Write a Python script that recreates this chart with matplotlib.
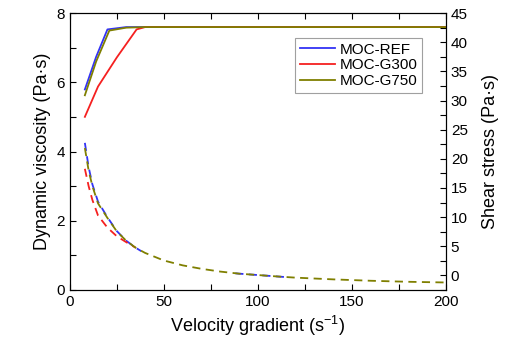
import matplotlib
matplotlib.use("Agg")
import matplotlib.pyplot as plt
from matplotlib.ticker import MultipleLocator

plt.rcParams["font.family"] = ["Liberation Sans", "DejaVu Sans"]

nan = float("nan")

# shear stress (solid, right axis)
stress_x = {
    "MOC-REF": [8, 14, 20, 30, 40, 60, 100, 150, 200],
    "MOC-G300": [8, 15, 25, 35.5, 40, 60, 100, 150, 200],
    "MOC-G750": [8, 14, 21, 30, 40, 60, 100, 150, 200],
}
stress_y = {
    "MOC-REF": [31.9, 37.5, 42.2, 42.6, 42.6, 42.6, 42.6, 42.6, 42.6],
    "MOC-G300": [27.2, 32.4, 37.4, 42.2, 42.6, 42.6, 42.6, 42.6, 42.6],
    "MOC-G750": [30.9, 36.7, 42.0, 42.5, 42.6, 42.6, 42.6, 42.6, 42.6],
}

# dynamic viscosity (dashed, left axis); blue hidden under olive 40-85
visc_x = {
    "MOC-REF": [8, 10, 12, 15, 20, 25, 30, 35, 38, 62, 88, 90, 100, 110, 115],
    "MOC-G300": [8, 10, 12, 15, 20, 25, 30, 35],
    "MOC-G750": [8, 10, 12, 15, 20, 25, 30, 35, 40, 50, 60, 70, 80, 90, 100, 110, 120,
                 130, 140, 150, 160, 170, 180, 190, 200],
}
visc_y = {
    "MOC-REF": [4.25, 3.55, 3.05, 2.55, 2.1, 1.7, 1.42, 1.22, 1.12, nan, 0.48, 0.47,
                0.43, 0.39, 0.37],
    "MOC-G300": [3.5, 3.0, 2.6, 2.15, 1.8, 1.55, 1.38, 1.22],
    "MOC-G750": [4.1, 3.45, 3.0, 2.5, 2.08, 1.69, 1.42, 1.22, 1.07, 0.85, 0.71, 0.61,
                 0.53, 0.47, 0.43, 0.39, 0.355, 0.33, 0.305, 0.285, 0.265, 0.25, 0.235,
                 0.225, 0.215],
}
colors = {"MOC-REF": "#3333f5", "MOC-G300": "#f52020", "MOC-G750": "#7f7f00"}
series = ["MOC-REF", "MOC-G300", "MOC-G750"]

fig = plt.figure(figsize=(5.29, 3.54), dpi=100)
ax = fig.add_axes([0.132, 0.181, 0.711, 0.782])
ax2 = ax.twinx()

for name in series:
    ax.plot(visc_x[name], visc_y[name], color=colors[name], lw=1.3, ls=(0, (4.5, 3)))
    ax2.plot(stress_x[name], stress_y[name], color=colors[name], lw=1.3, label=name)

ax.set_xlim(0, 200)
ax.set_ylim(0, 8)
ax2.set_ylim(-2.5, 45)

ax.xaxis.set_major_locator(MultipleLocator(50))
ax.xaxis.set_minor_locator(MultipleLocator(25))
ax.yaxis.set_major_locator(MultipleLocator(2))
ax.yaxis.set_minor_locator(MultipleLocator(1))
ax2.yaxis.set_major_locator(MultipleLocator(5))
ax2.yaxis.set_minor_locator(MultipleLocator(2.5))

ax.tick_params(which="both", direction="in", top=True, labelsize=11, length=4, width=0.8)
ax2.tick_params(which="both", direction="in", labelsize=11, length=4, width=0.8)

ax.set_xlabel("Velocity gradient (s$^{\\mathregular{-1}}$)", fontsize=13)
ax.set_ylabel("Dynamic viscosity (Pa·s)", fontsize=13)
ax2.set_ylabel("Shear stress (Pa·s)", fontsize=13, labelpad=10)

leg = ax2.legend(loc="upper left", bbox_to_anchor=(0.6, 0.91), fontsize=11,
                 frameon=True, fancybox=False, edgecolor="#888888",
                 handlelength=2.3, borderpad=0.3, labelspacing=0.12, handletextpad=0.3,
                 borderaxespad=0)
leg.get_frame().set_linewidth(0.8)

fig.savefig("out.png", dpi=100)
